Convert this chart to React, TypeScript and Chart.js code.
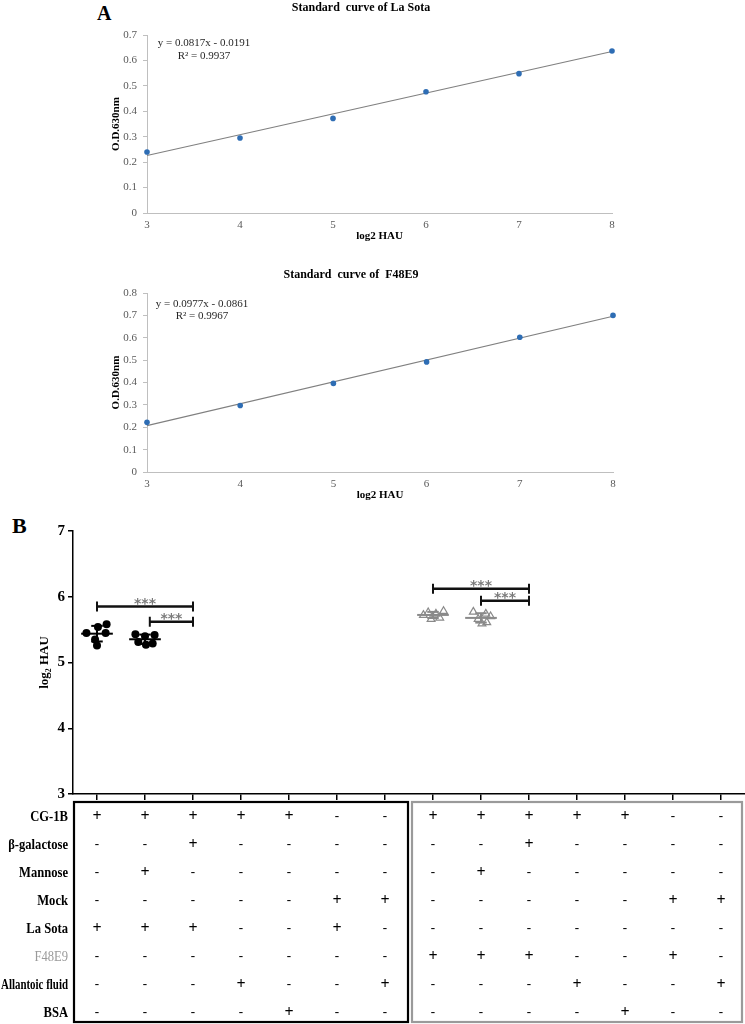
import React, { useEffect, useRef } from "react";
import { Chart, registerables } from "chart.js";

Chart.register(...registerables);

const serif = '"Liberation Serif", "Times New Roman", serif';

// ---------- Panel A data ----------
const hauLog2 = [3, 4, 5, 6, 7, 8];
const laSotaOD = [0.24, 0.295, 0.372, 0.477, 0.548, 0.637];
const laSotaTrend = [0.226, 0.635]; // trend line read at x = 3 and x = 8
const laSotaEquation = ["y = 0.0817x - 0.0191", "R² = 0.9937"];
const f48OD = [0.222, 0.297, 0.396, 0.492, 0.602, 0.7];
const f48Trend = [0.207, 0.696];
const f48Equation = ["y = 0.0977x - 0.0861", "R² = 0.9967"];

// ---------- Panel B data ----------
const bColumns = [0, 1, 2, 3, 4, 5, 6, 7, 8, 9, 10, 11, 12, 13];
const bYTicks = [3, 4, 5, 6, 7];
const bGroupColumns = [0, 1, 7, 8];
const bGroupValues = [
  [5.58, 5.54, 5.45, 5.45, 5.35, 5.26],
  [5.43, 5.42, 5.4, 5.31, 5.29, 5.27],
  [5.78, 5.76, 5.74, 5.72, 5.68, 5.66],
  [5.77, 5.74, 5.7, 5.66, 5.61, 5.59],
];
const bGroupJitter = [
  [0.2, 0.02, -0.22, 0.18, -0.04, 0],
  [-0.2, 0.2, 0, -0.14, 0.16, 0.02],
  [0.22, -0.1, 0.06, -0.2, 0.14, -0.04],
  [-0.16, 0.1, 0.2, -0.06, 0.12, 0.02],
];
const bracketFrom = [0, 1.1, 7, 8];
const bracketTo = [2, 2, 9, 9];
const bracketY = [5.85, 5.62, 6.12, 5.94];
const bracketLabel = ["***", "***", "***", "***"];

const tableRowLabels = ["CG-1B", "β-galactose", "Mannose", "Mock", "La Sota", "F48E9", "Allantoic fluid", "BSA"];
const tableSigns = [
  "+++++--+++++--",
  "--+------+----",
  "-+------+-----",
  "-----++-----++",
  "+++--+--------",
  "-------+++--+-",
  "---+--+---+--+",
  "----+------+--",
];

const groupColors = ["#000000", "#000000", "#8a8a8a", "#8a8a8a"];

type StdProps = {
  od: number[];
  trend: number[];
  eq: string[];
  title: string;
  yMax: number;
  padTop: number;
  padRight: number;
  titleX: number;
  titleY: number;
  eqX: number;
  eqY: number[];
};

function stdCurveConfig(p: StdProps): any {
  const textPlugin = {
    id: "stdText",
    afterDraw(chart: any) {
      const { ctx, chartArea: ca } = chart;
      ctx.save();
      ctx.textAlign = "center";
      ctx.textBaseline = "middle";
      ctx.fillStyle = "#000";
      ctx.font = `bold 12px ${serif}`;
      ctx.fillText(p.title, p.titleX, p.titleY);
      ctx.font = `11px ${serif}`;
      ctx.fillStyle = "#262626";
      ctx.fillText(p.eq[0], ca.left + p.eqX, ca.top + p.eqY[0]);
      ctx.fillText(p.eq[1], ca.left + p.eqX, ca.top + p.eqY[1]);
      ctx.restore();
    },
  };
  return {
    type: "scatter",
    data: {
      datasets: [
        {
          data: hauLog2.map((x, i) => ({ x, y: p.od[i] })),
          pointRadius: 2.8,
          pointBackgroundColor: "#2e6db4",
          pointBorderWidth: 0,
          clip: false,
        },
        {
          data: [
            { x: hauLog2[0], y: p.trend[0] },
            { x: hauLog2[hauLog2.length - 1], y: p.trend[1] },
          ],
          showLine: true,
          borderColor: "#808080",
          borderWidth: 1.2,
          pointRadius: 0,
          clip: false,
        },
      ],
    },
    options: {
      animation: false,
      responsive: false,
      devicePixelRatio: 1,
      layout: { autoPadding: false, padding: { top: p.padTop, right: p.padRight, left: 0, bottom: 0 } },
      plugins: { legend: { display: false }, tooltip: { enabled: false }, title: { display: false } },
      scales: {
        x: {
          type: "linear",
          min: 3,
          max: 8,
          afterFit: (s: any) => {
            s.height = 35;
          },
          ticks: { stepSize: 1, padding: 6, font: { family: serif, size: 11 }, color: "#595959" },
          grid: { display: false, drawTicks: false },
          border: { color: "#bfbfbf" },
          title: {
            display: true,
            text: "log2 HAU",
            font: { family: serif, size: 11, weight: "bold" },
            color: "#000",
            padding: { top: 0, bottom: 5 },
          },
        },
        y: {
          type: "linear",
          min: 0,
          max: p.yMax,
          afterFit: (s: any) => {
            s.width = 57;
          },
          ticks: {
            stepSize: 0.1,
            padding: 6,
            font: { family: serif, size: 11 },
            color: "#595959",
            callback: (v: any) => String(Math.round(Number(v) * 10) / 10),
          },
          grid: { drawOnChartArea: false, drawTicks: true, tickLength: 4, color: "#bfbfbf" },
          border: { color: "#bfbfbf" },
          title: {
            display: true,
            text: "O.D.630nm",
            font: { family: serif, size: 11, weight: "bold" },
            color: "#000",
            padding: { top: 19.4, bottom: 0 },
          },
        },
      },
    },
    plugins: [textPlugin],
  };
}

function line(ctx: CanvasRenderingContext2D, x1: number, y1: number, x2: number, y2: number) {
  ctx.beginPath();
  ctx.moveTo(x1, y1);
  ctx.lineTo(x2, y2);
  ctx.stroke();
}

const panelBPlugin = {
  id: "panelB",
  afterDatasetsDraw(chart: any) {
    const { ctx } = chart;
    const xs = chart.scales.x;
    const ys = chart.scales.y;
    ctx.save();
    ctx.lineCap = "butt";
    bGroupValues.forEach((vals, g) => {
      const col = bGroupColumns[g];
      const mean = vals.reduce((a, b) => a + b, 0) / vals.length;
      const sd = Math.sqrt(vals.reduce((a, b) => a + (b - mean) ** 2, 0) / (vals.length - 1));
      ctx.strokeStyle = groupColors[g];
      ctx.lineWidth = 2;
      const ym = ys.getPixelForValue(mean);
      line(ctx, xs.getPixelForValue(col - 0.33), ym, xs.getPixelForValue(col + 0.33), ym);
      const xc = xs.getPixelForValue(col);
      const yt = ys.getPixelForValue(mean + sd);
      const yb = ys.getPixelForValue(mean - sd);
      line(ctx, xc, yt, xc, yb);
      line(ctx, xs.getPixelForValue(col - 0.12), yt, xs.getPixelForValue(col + 0.12), yt);
      line(ctx, xs.getPixelForValue(col - 0.12), yb, xs.getPixelForValue(col + 0.12), yb);
    });
    bracketY.forEach((v, i) => {
      const x1 = xs.getPixelForValue(bracketFrom[i]);
      const x2 = xs.getPixelForValue(bracketTo[i]);
      const y = ys.getPixelForValue(v);
      ctx.strokeStyle = "#111";
      ctx.lineWidth = 2.5;
      line(ctx, x1, y, x2, y);
      ctx.lineWidth = 2;
      line(ctx, x1, y - 5, x1, y + 5);
      line(ctx, x2, y - 5, x2, y + 5);
      ctx.fillStyle = "#7a7a7a";
      ctx.font = `bold 14px "DejaVu Sans", sans-serif`;
      ctx.textAlign = "center";
      ctx.textBaseline = "alphabetic";
      ctx.fillText(bracketLabel[i], (x1 + x2) / 2, y + 1);
    });
    ctx.restore();
  },
  afterDraw(chart: any) {
    const { ctx, chartArea: ca } = chart;
    const xs = chart.scales.x;
    ctx.save();
    const rowY0 = ca.bottom + 23;
    const rowStep = 28;
    tableRowLabels.forEach((label, r) => {
      const y = rowY0 + r * rowStep;
      ctx.textAlign = "right";
      ctx.textBaseline = "middle";
      const grey = label === "F48E9";
      ctx.fillStyle = grey ? "#9a9a9a" : "#000";
      ctx.font = grey ? `14px ${serif}` : `bold 14px ${serif}`;
      const w = ctx.measureText(label).width;
      ctx.fillText(label, ca.left - 5, y, Math.min(67, w * 0.9));
      ctx.textAlign = "center";
      ctx.fillStyle = "#000";
      bColumns.forEach((c) => {
        const s = tableSigns[r][c];
        const x = xs.getPixelForValue(c);
        if (s === "+") {
          ctx.font = `bold 16px ${serif}`;
          ctx.fillText("+", x, y);
        } else {
          ctx.font = `bold 13px ${serif}`;
          ctx.fillText("-", x, y);
        }
      });
    });
    const mid = (xs.getPixelForValue(6) + xs.getPixelForValue(7)) / 2;
    const top = ca.bottom + 8;
    const bottom = chart.height - 2;
    ctx.lineWidth = 2.2;
    ctx.strokeStyle = "#000";
    ctx.strokeRect(ca.left + 1, top, mid - 1 - (ca.left + 1), bottom - top);
    ctx.strokeStyle = "#9a9a9a";
    ctx.strokeRect(mid + 3, top, chart.width - 3 - (mid + 3), bottom - top);
    ctx.restore();
  },
};

function panelBConfig(): any {
  return {
    type: "scatter",
    data: {
      datasets: bGroupValues.map((vals, g) => ({
        data: vals.map((v, i) => ({ x: bGroupColumns[g] + bGroupJitter[g][i], y: v })),
        pointStyle: g < 2 ? "circle" : "triangle",
        pointRadius: g < 2 ? 4 : 4.5,
        pointBackgroundColor: g < 2 ? "#000" : "rgba(255,255,255,0)",
        pointBorderColor: groupColors[g],
        pointBorderWidth: g < 2 ? 0 : 1.2,
      })),
    },
    options: {
      animation: false,
      responsive: false,
      devicePixelRatio: 1,
      layout: { autoPadding: false, padding: { top: 31, right: 0, left: 0, bottom: 0 } },
      plugins: { legend: { display: false }, tooltip: { enabled: false } },
      scales: {
        x: {
          type: "linear",
          min: -0.5,
          max: 13.5,
          afterBuildTicks: (s: any) => {
            s.ticks = bColumns.map((v) => ({ value: v }));
          },
          afterFit: (s: any) => {
            s.height = 230;
          },
          ticks: { display: false },
          grid: { display: true, drawOnChartArea: false, drawTicks: true, tickLength: 6, color: "#000", lineWidth: 1.5 },
          border: { color: "#000", width: 1.5 },
        },
        y: {
          type: "linear",
          min: 3,
          max: 7,
          afterBuildTicks: (s: any) => {
            s.ticks = bYTicks.map((v) => ({ value: v }));
          },
          afterFit: (s: any) => {
            s.width = 73;
          },
          ticks: { padding: 3, font: { family: serif, size: 15, weight: "bold" }, color: "#000" },
          grid: { drawOnChartArea: false, drawTicks: true, tickLength: 5, color: "#000", lineWidth: 1.5 },
          border: { color: "#000", width: 1.5 },
          title: {
            display: true,
            text: "log₂ HAU",
            font: { family: serif, size: 13, weight: "bold" },
            color: "#000",
            padding: { top: 37, bottom: 0 },
          },
        },
      },
    },
    plugins: [panelBPlugin],
  };
}

function ChartCanvas(props: { left: number; top: number; width: number; height: number; makeConfig: () => any }) {
  const ref = useRef<HTMLCanvasElement | null>(null);
  useEffect(() => {
    if (!ref.current) return;
    const chart = new Chart(ref.current, props.makeConfig());
    return () => chart.destroy();
  }, []);
  return (
    <canvas
      ref={ref}
      width={props.width}
      height={props.height}
      style={{ position: "absolute", left: props.left, top: props.top, width: props.width, height: props.height }}
    />
  );
}

export default function App() {
  return (
    <div style={{ position: "absolute", left: 0, top: 0, width: 745, height: 1024, background: "#fff", overflow: "hidden" }}>
      <div style={{ position: "absolute", left: 97, top: 1, fontFamily: serif, fontWeight: "bold", fontSize: 20, lineHeight: "24px" }}>A</div>
      <div style={{ position: "absolute", left: 12, top: 513, fontFamily: serif, fontWeight: "bold", fontSize: 22, lineHeight: "26px" }}>B</div>
      <ChartCanvas
        left={90}
        top={0}
        width={545}
        height={248}
        makeConfig={() =>
          stdCurveConfig({
            od: laSotaOD,
            trend: laSotaTrend,
            eq: laSotaEquation,
            title: "Standard  curve of La Sota",
            yMax: 0.7,
            padTop: 35,
            padRight: 23,
            titleX: 271,
            titleY: 8,
            eqX: 57,
            eqY: [8, 21],
          })
        }
      />
      <ChartCanvas
        left={90}
        top={262}
        width={545}
        height={245}
        makeConfig={() =>
          stdCurveConfig({
            od: f48OD,
            trend: f48Trend,
            eq: f48Equation,
            title: "Standard  curve of  F48E9",
            yMax: 0.8,
            padTop: 31,
            padRight: 22,
            titleX: 261,
            titleY: 13,
            eqX: 55,
            eqY: [11, 23],
          })
        }
      />
      <ChartCanvas left={0} top={500} width={745} height={524} makeConfig={panelBConfig} />
    </div>
  );
}
